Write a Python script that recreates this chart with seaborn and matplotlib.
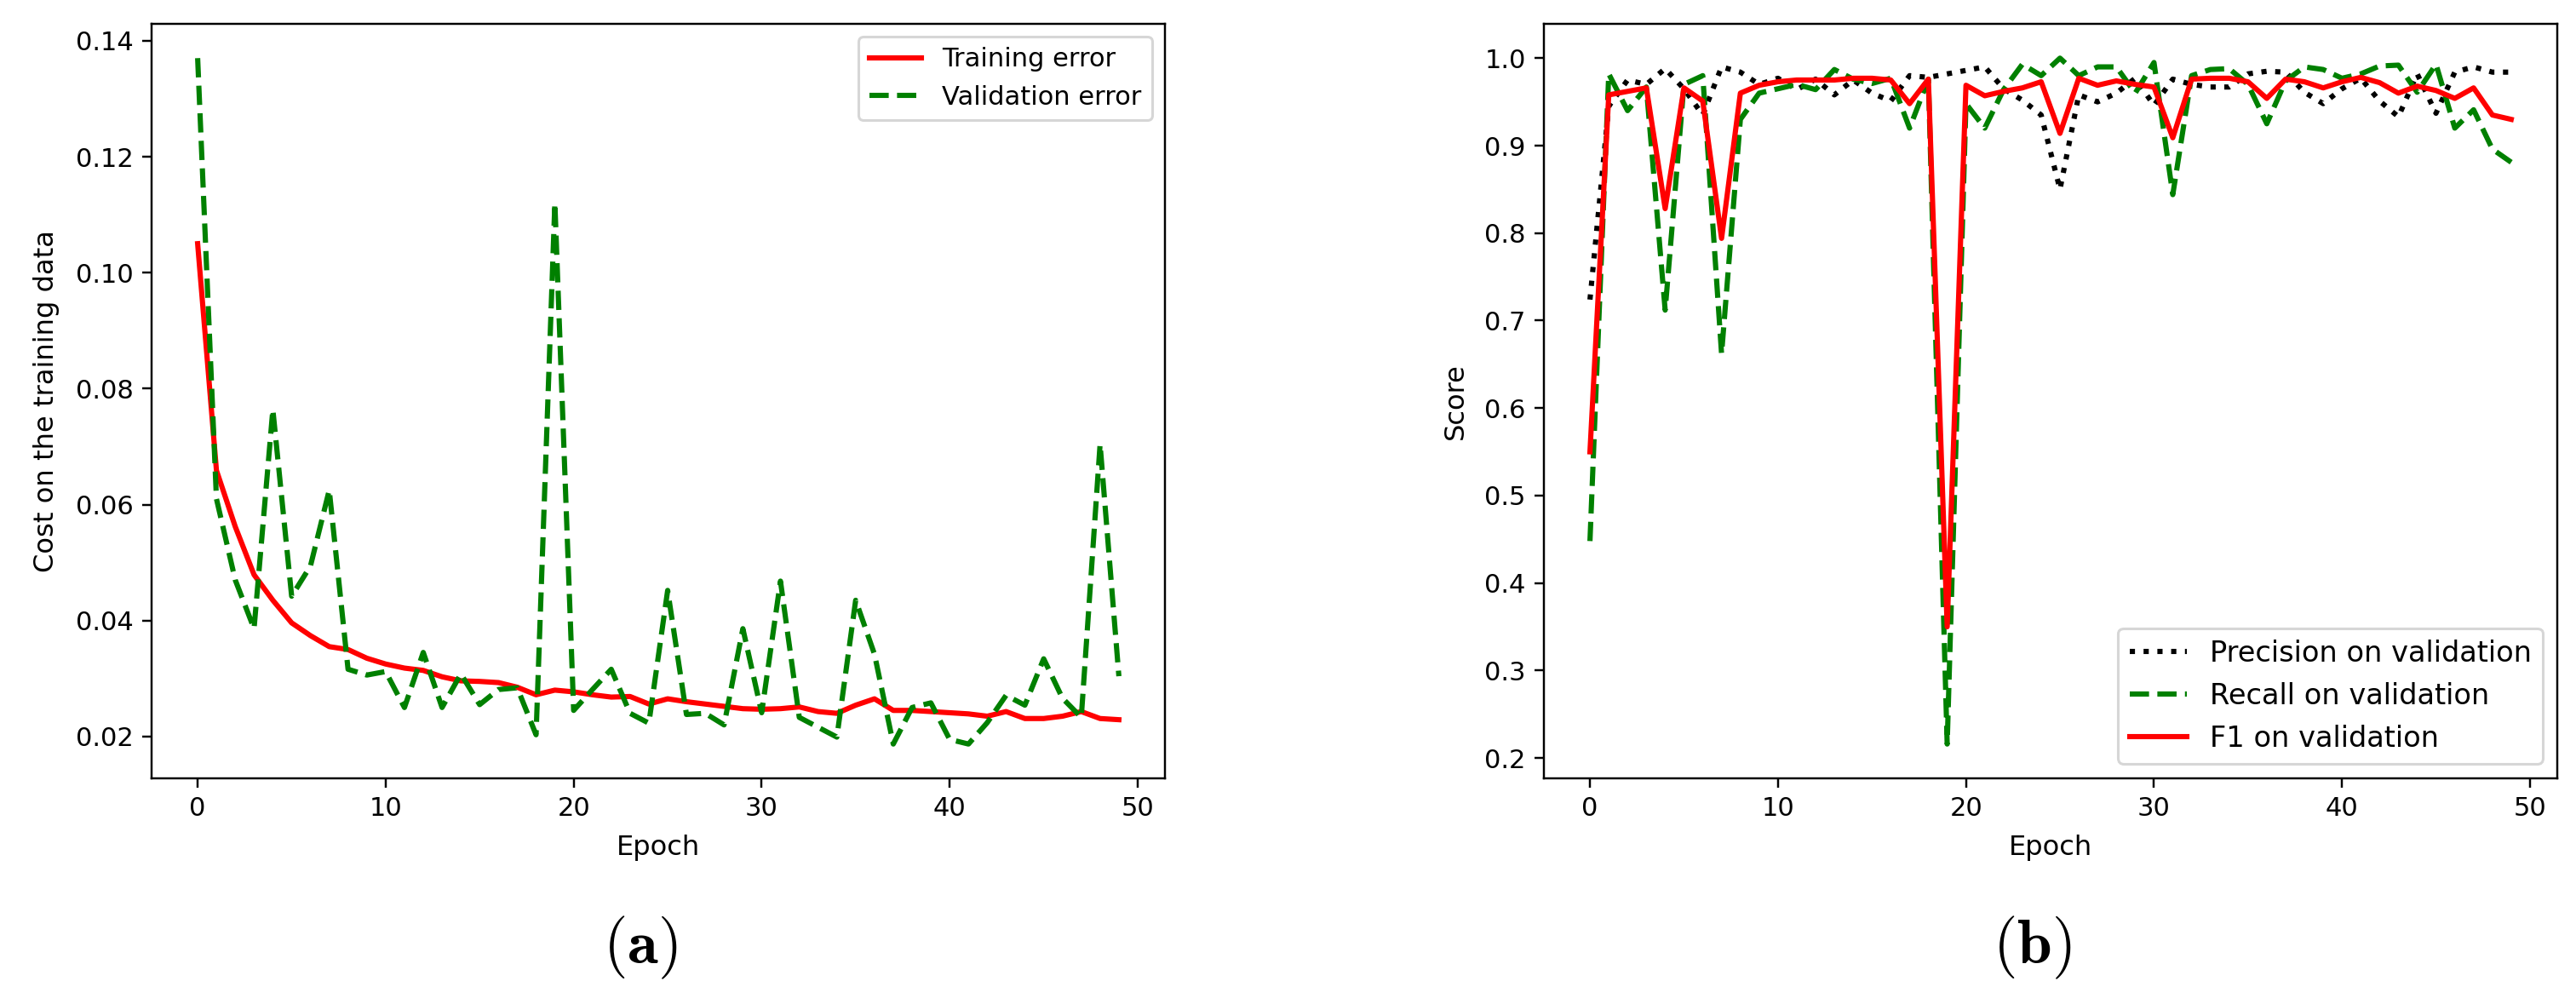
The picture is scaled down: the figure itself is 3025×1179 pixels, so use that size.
import numpy as np
import matplotlib
matplotlib.use("Agg")
import matplotlib.pyplot as plt
import seaborn as sns

# epochs 0..49
epochs = list(range(50))

# (a) cost curves
training_error = [0.105, 0.0659, 0.0562, 0.0479, 0.0435, 0.0396, 0.0374, 0.0355, 0.035, 0.0335,
                  0.0325, 0.0318, 0.0314, 0.0303, 0.0296, 0.0295, 0.0293, 0.0285, 0.0272, 0.028,
                  0.0277, 0.0272, 0.0268, 0.0269, 0.0256, 0.0265, 0.026, 0.0256, 0.0252, 0.0248,
                  0.0247, 0.0248, 0.0251, 0.0243, 0.024, 0.0254, 0.0265, 0.0245, 0.0245, 0.0243,
                  0.0241, 0.0239, 0.0235, 0.0243, 0.0231, 0.0231, 0.0235, 0.0243, 0.0231, 0.0229]
validation_error = [0.137, 0.061, 0.047, 0.0386, 0.0764, 0.0442, 0.0494, 0.0625, 0.0316, 0.0306,
                    0.0312, 0.025, 0.0345, 0.025, 0.0308, 0.0255, 0.0281, 0.0284, 0.0203, 0.112,
                    0.0245, 0.0281, 0.0316, 0.024, 0.0223, 0.0452, 0.0238, 0.024, 0.022, 0.0386,
                    0.0241, 0.0468, 0.0233, 0.0216, 0.0199, 0.0435, 0.0342, 0.0187, 0.025, 0.0258,
                    0.0195, 0.0187, 0.0224, 0.0271, 0.0254, 0.0334, 0.0266, 0.0233, 0.0704, 0.0304]

# (b) validation scores
precision = [0.724, 0.945, 0.975, 0.97, 0.988, 0.965, 0.935, 0.99, 0.984, 0.97,
             0.977, 0.964, 0.976, 0.958, 0.975, 0.96, 0.951, 0.98, 0.978, 0.982,
             0.986, 0.99, 0.965, 0.952, 0.935, 0.85, 0.958, 0.95, 0.96, 0.977,
             0.946, 0.976, 0.97, 0.967, 0.967, 0.982, 0.985, 0.984, 0.961, 0.948,
             0.965, 0.977, 0.951, 0.933, 0.982, 0.937, 0.984, 0.99, 0.984, 0.984]
recall = [0.448, 0.982, 0.94, 0.967, 0.712, 0.97, 0.98, 0.662, 0.93, 0.96,
          0.965, 0.97, 0.964, 0.987, 0.976, 0.971, 0.977, 0.92, 0.976, 0.216,
          0.948, 0.92, 0.964, 0.993, 0.98, 1.0, 0.98, 0.99, 0.99, 0.96,
          0.995, 0.844, 0.98, 0.987, 0.988, 0.97, 0.925, 0.974, 0.99, 0.987,
          0.977, 0.982, 0.991, 0.992, 0.961, 0.993, 0.92, 0.941, 0.896, 0.881]
f1 = [0.55, 0.958, 0.962, 0.966, 0.828, 0.966, 0.951, 0.794, 0.96, 0.969,
      0.973, 0.975, 0.975, 0.975, 0.977, 0.977, 0.975, 0.948, 0.976, 0.35,
      0.969, 0.957, 0.962, 0.966, 0.973, 0.914, 0.977, 0.969, 0.974, 0.970,
      0.967, 0.909, 0.976, 0.977, 0.977, 0.973, 0.954, 0.976, 0.973, 0.966,
      0.973, 0.978, 0.972, 0.96, 0.968, 0.963, 0.954, 0.966, 0.935, 0.93]

plt.rcParams['mathtext.fontset'] = 'cm'

W, H, DPI = 3025, 1179, 220
fig = plt.figure(figsize=(W / DPI, H / DPI), dpi=DPI)

ax_a = fig.add_axes([178 / W, 1 - 914 / H, 1190 / W, 886 / H])
ax_b = fig.add_axes([1813 / W, 1 - 914 / H, 1190 / W, 886 / H])

# left panel
sns.lineplot(x=epochs, y=training_error, ax=ax_a, color='red', linewidth=2,
             label='Training error')
sns.lineplot(x=epochs, y=validation_error, ax=ax_a, color='green', linewidth=2,
             linestyle='--', label='Validation error')
ax_a.set_xlabel('Epoch', fontsize=10.5, labelpad=5)
ax_a.set_ylabel('Cost on the training data', fontsize=10.5, labelpad=6)
ax_a.set_xticks([0, 10, 20, 30, 40, 50])
ax_a.legend(loc='upper right')

# right panel
sns.lineplot(x=epochs, y=precision, ax=ax_b, color='black', linewidth=2,
             linestyle=':', label='Precision on validation')
sns.lineplot(x=epochs, y=recall, ax=ax_b, color='green', linewidth=2,
             linestyle='--', label='Recall on validation')
sns.lineplot(x=epochs, y=f1, ax=ax_b, color='red', linewidth=2,
             label='F1 on validation')
ax_b.set_xlabel('Epoch', fontsize=10.5, labelpad=5)
ax_b.set_ylabel('Score', fontsize=10.5, labelpad=6)
ax_b.set_xticks([0, 10, 20, 30, 40, 50])
ax_b.legend(loc='lower right', fontsize=11)

for ax in (ax_a, ax_b):
    ax.set_xlim(-2.45, 51.45)

fig.text(752 / W, 1 - 1113 / H, r'$\mathbf{(a)}$', ha='center', va='center', fontsize=24)
fig.text(2386 / W, 1 - 1113 / H, r'$\mathbf{(b)}$', ha='center', va='center', fontsize=24)

fig.savefig('out.png', dpi=DPI)
